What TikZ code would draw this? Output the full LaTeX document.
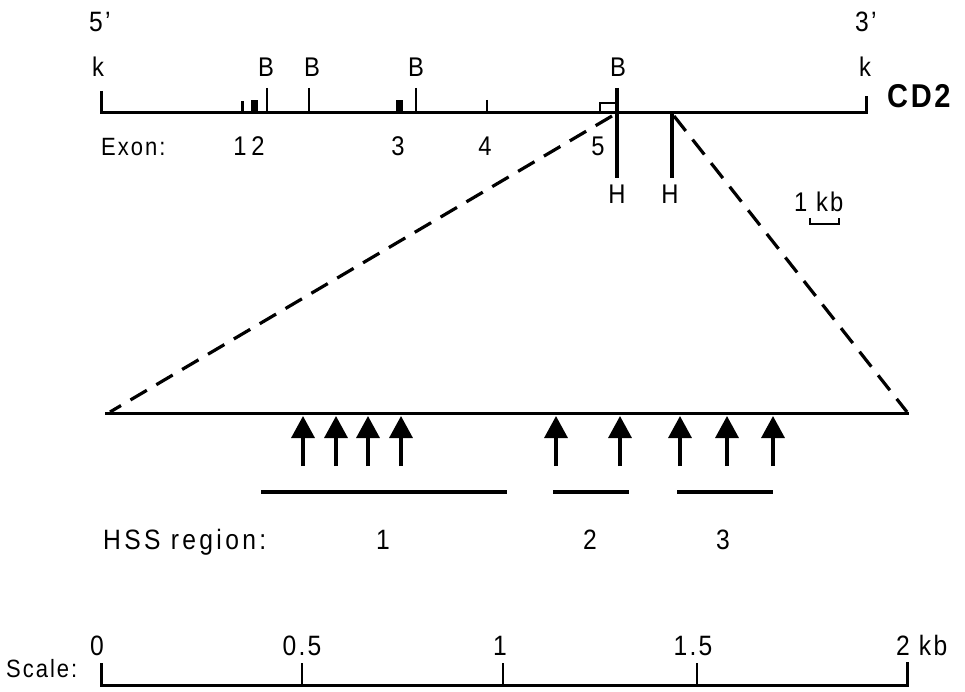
\documentclass[tikz,border=0pt]{standalone}
\usepackage{fontspec}
\setmainfont{Liberation Sans}[LetterSpace=8,FakeStretch=0.88]
\usetikzlibrary{arrows.meta}
\begin{document}
\begin{tikzpicture}[x=1pt,y=-1pt,
  lbl/.style={inner sep=0pt,anchor=base,font=\fontsize{27}{27}\selectfont},
  big/.style={inner sep=0pt,anchor=base,font=\fontsize{28}{28}\selectfont},
  small/.style={inner sep=0pt,anchor=base,font=\fontsize{25}{25}\selectfont},
  wide/.style={inner sep=0pt,anchor=base,font=\fontsize{28}{28}\selectfont\addfontfeature{LetterSpace=12}},
  cdtwo/.style={inner sep=0pt,anchor=base west,font=\fontsize{33}{33}\selectfont\bfseries},
  dna/.style={line width=3pt},
  tickline/.style={line width=2.6pt},
  hind/.style={line width=3.4pt},
  dashline/.style={line width=3.2pt,dash pattern=on 19pt off 11pt},
  hss/.style={line width=3.4pt,-{Triangle[width=23pt,length=22pt]}},
  region/.style={line width=3.4pt},
  exonbox/.style={fill=black},
  scaleline/.style={line width=3pt}]
\useasboundingbox (0,0) rectangle (965,692);

% ---- CD2 locus ----
\coordinate (L0) at (101,113);
\coordinate (L1) at (866,113);
\coordinate (Lt0) at (101,91);
\coordinate (Lt1) at (866,96);
\draw[dna] (Lt0) -- (L0) -- (L1) -- (Lt1);

\node[big,anchor=base west] (fivep) at (89,32) {5'};
\node[big,anchor=base west] (threep) at (855,32) {3'};
\node[lbl] (kL) at (98,77) {k};
\node[lbl] (kR) at (865,77) {k};
\node[cdtwo] (cd2) at (887,108) {CD2};

% BamHI sites
\foreach \n/\x in {b1/267,b2/309,b3/416}{
  \coordinate (\n t) at (\x,88);
  \coordinate (\n b) at (\x,113);
  \draw[tickline] (\n t) -- (\n b);
}
\node[lbl] (B1) at (266,77) {B};
\node[lbl] (B2) at (312,77) {B};
\node[lbl] (B3) at (416,77) {B};
\node[lbl] (B4) at (618,77) {B};

% long B/H line and H line
\coordinate (b4t) at (617,88);
\coordinate (b4b) at (617,178);
\draw[hind] (b4t) -- (b4b);
\coordinate (h2t) at (672,113);
\coordinate (h2b) at (672,178);
\draw[hind] (h2t) -- (h2b);
\node[lbl] (H1) at (617,204) {H};
\node[lbl] (H2) at (670,204) {H};

% exons
\fill[exonbox] (241,101) rectangle (244,113);
\fill[exonbox] (251,100) rectangle (258,113);
\fill[exonbox] (396,100) rectangle (403,113);
\draw[tickline] (487,100) -- (487,113);
\draw[line width=2.4pt] (600,113) -- (600,103) -- (616,103);

\node[small,anchor=base west] (exon) at (101,156) {Exon:};
\node[lbl] (e1) at (240,156) {1};
\node[lbl] (e2) at (258,156) {2};
\node[lbl] (e3) at (398,156) {3};
\node[lbl] (e4) at (485,156) {4};
\node[lbl] (e5) at (598,156) {5};

% 1 kb bar
\node[lbl,anchor=base west] (onekb) at (794,212) {1 kb};
\draw[line width=2.4pt] (810,218) -- (810,224) -- (839,224) -- (839,218);

% ---- expanded region ----
\coordinate (R0) at (105,413);
\coordinate (R1) at (909,413);
\draw[dna] (R0) -- (R1);
\coordinate (d0a) at (612,116);
\coordinate (d0b) at (110,412);
\coordinate (d1a) at (674,116);
\coordinate (d1b) at (907,412);
\draw[dashline] (d0a) -- (d0b);
\draw[dashline] (d1a) -- (d1b);

% hypersensitive sites
\foreach \i/\x in {1/303,2/336,3/368,4/401,5/556,6/620,7/680,8/727,9/773}{
  \coordinate (a\i b) at (\x,466);
  \coordinate (a\i t) at (\x,416);
  \draw[hss] (a\i b) -- (a\i t);
}

% HSS regions
\draw[region] (261,492) -- (507,492);
\draw[region] (553,492) -- (629,492);
\draw[region] (677,492) -- (773,492);
\node[wide,anchor=base west] (hsslbl) at (103,549) {HSS region:};
\node[big] (r1) at (383,549) {1};
\node[big] (r2) at (590,549) {2};
\node[big] (r3) at (723,549) {3};

% ---- scale ----
\coordinate (S0) at (101,685);
\coordinate (S1) at (907,685);
\draw[scaleline] (101,663) -- (S0) -- (S1) -- (907,662);
\draw[tickline] (302,663) -- (302,685);
\draw[tickline] (503,663) -- (503,685);
\draw[tickline] (697,663) -- (697,685);
\node[small,anchor=base west] (scalelbl) at (6,677) {Scale:};
\node[big] (s0) at (97,655) {0};
\node[big] (s05) at (302,655) {0.5};
\node[big] (s1) at (500,655) {1};
\node[big] (s15) at (693,655) {1.5};
\node[big,anchor=base west] (s2) at (896,655) {2 kb};
\end{tikzpicture}
\end{document}
